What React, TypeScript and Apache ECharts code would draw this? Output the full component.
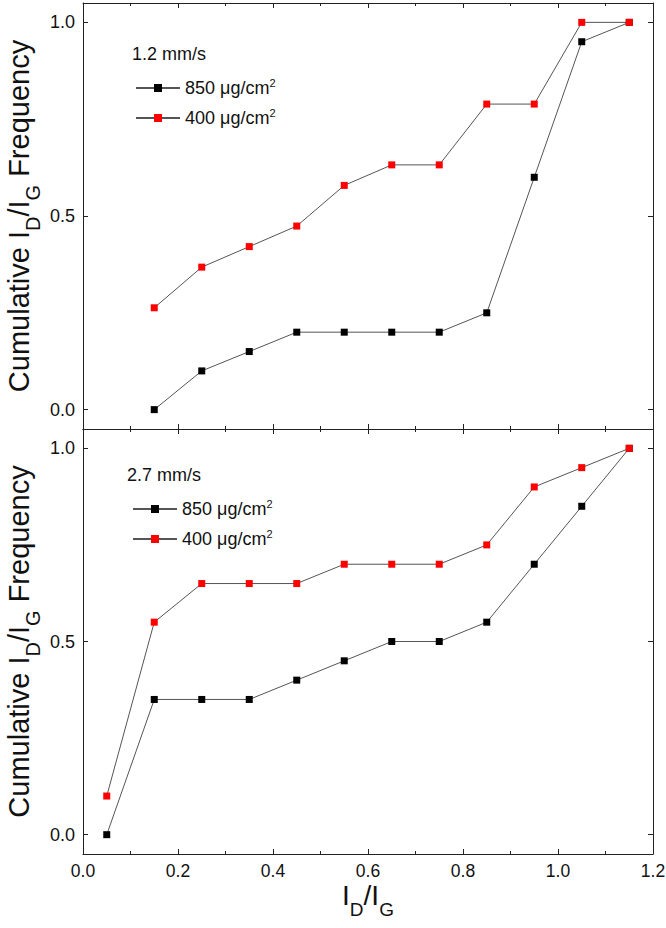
import React, { useEffect, useRef } from "react";
import * as echarts from "echarts";

const FONT = "Liberation Sans, Arial, sans-serif";

const xTop = [0.15, 0.25, 0.35, 0.45, 0.55, 0.65, 0.75, 0.85, 0.95, 1.05, 1.15];
const top850 = [0, 0.1, 0.15, 0.2, 0.2, 0.2, 0.2, 0.25, 0.6, 0.95, 1.0];
const top400 = [0.263, 0.368, 0.421, 0.474, 0.579, 0.632, 0.632, 0.789, 0.789, 1.0, 1.0];

const xBottom = [0.05, 0.15, 0.25, 0.35, 0.45, 0.55, 0.65, 0.75, 0.85, 0.95, 1.05, 1.15];
const bot850 = [0, 0.35, 0.35, 0.35, 0.4, 0.45, 0.5, 0.5, 0.55, 0.7, 0.85, 1.0];
const bot400 = [0.1, 0.55, 0.65, 0.65, 0.65, 0.7, 0.7, 0.7, 0.75, 0.9, 0.95, 1.0];

const yTicks = [0, 0.5, 1.0];
const seriesNames = ["850 μg/cm2", "400 μg/cm2"];
const panelTitles = ["1.2 mm/s", "2.7 mm/s"];

const AXIS_COLOR = "#222";
const TEXT_COLOR = "#111";

const zip = (xs: number[], ys: number[]) => xs.map((x, i) => [x, ys[i]]);

function xAxisDef(gridIndex: number, position: "top" | "bottom", labels: boolean) {
  const base: any = {
    type: "value",
    gridIndex,
    position,
    min: 0,
    max: 1.2,
    interval: 0.2,
    axisLine: { show: true, onZero: false, lineStyle: { color: AXIS_COLOR, width: 1 } },
    axisTick: { show: true, inside: true, length: 5, lineStyle: { color: AXIS_COLOR } },
    minorTick: { show: true, splitNumber: 2, length: 3, lineStyle: { color: AXIS_COLOR } },
    splitLine: { show: false },
    axisLabel: {
      show: labels,
      fontSize: 17.5,
      fontFamily: FONT,
      color: TEXT_COLOR,
      margin: 8,
      formatter: (v: number) => v.toFixed(1),
    },
  };
  if (labels) {
    base.name = "I{sub|D}/I{sub|G}";
    base.nameLocation = "middle";
    base.nameGap = 29;
    base.nameMoveOverlap = false;
    base.nameTextStyle = {
      fontSize: 28,
      fontFamily: FONT,
      color: TEXT_COLOR,
      lineHeight: 24,
      rich: {
        sub: { fontSize: 19, fontFamily: FONT, color: TEXT_COLOR, padding: [28, 0, 0, 0], lineHeight: 10 },
      },
    };
  }
  return base;
}

function yAxisDef(gridIndex: number, position: "left" | "right", labels: boolean) {
  const base: any = {
    type: "value",
    gridIndex,
    position,
    min: -0.05,
    max: 1.05,
    axisLine: { show: true, onZero: false, lineStyle: { color: AXIS_COLOR, width: 1 } },
    axisTick: { show: true, inside: true, length: 5, customValues: yTicks, lineStyle: { color: AXIS_COLOR } },
    splitLine: { show: false },
    axisLabel: {
      show: labels,
      customValues: yTicks,
      fontSize: 18,
      fontFamily: FONT,
      color: TEXT_COLOR,
      margin: 8,
      formatter: (v: number) => v.toFixed(1),
    },
  };
  if (labels) {
    base.name = "Cumulative I{sub|D}/I{sub|G} Frequency";
    base.nameLocation = "middle";
    base.nameRotate = 90;
    base.nameGap = 49;
    base.nameMoveOverlap = false;
    base.nameTextStyle = {
      fontSize: 29,
      fontFamily: FONT,
      color: TEXT_COLOR,
      lineHeight: 30,
      rich: {
        sub: { fontSize: 20, fontFamily: FONT, color: TEXT_COLOR, padding: [28, 0, 0, 0], lineHeight: 10 },
      },
    };
  }
  return base;
}

function lineSeries(name: string, color: string, xAxisIndex: number, yAxisIndex: number, data: number[][]) {
  return {
    type: "line",
    name,
    xAxisIndex,
    yAxisIndex,
    data,
    symbol: "rect",
    symbolSize: 7,
    itemStyle: { color },
    lineStyle: { color: "#555", width: 1 },
    showSymbol: true,
  };
}

function legendDef(left: number, top: number) {
  return {
    orient: "vertical",
    left,
    top,
    itemWidth: 44,
    itemHeight: 10,
    itemGap: 8,
    selectedMode: false,
    data: seriesNames,
    formatter: (n: string) => n.replace(/cm2$/, "cm{sup|2}"),
    textStyle: {
      fontSize: 18,
      fontFamily: FONT,
      color: TEXT_COLOR,
      lineHeight: 20,
      rich: {
        sup: { fontSize: 11, fontFamily: FONT, color: TEXT_COLOR, padding: [0, 0, 11, 0], lineHeight: 10 },
      },
    },
  };
}

export default function App() {
  const ref = useRef<HTMLDivElement>(null);
  useEffect(() => {
    if (!ref.current) return;
    const chart = echarts.init(ref.current, undefined, { renderer: "svg" });
    chart.setOption({
      animation: false,
      backgroundColor: "#fff",
      grid: [
        { left: 83, right: 13, top: 3, height: 426, containLabel: false, outerBoundsMode: "none" },
        { left: 83, right: 13, top: 429, bottom: 74, containLabel: false, outerBoundsMode: "none" },
      ],
      xAxis: [
        xAxisDef(0, "bottom", false),
        xAxisDef(0, "top", false),
        xAxisDef(1, "bottom", true),
        xAxisDef(1, "top", false),
      ],
      yAxis: [
        yAxisDef(0, "left", true),
        yAxisDef(0, "right", false),
        yAxisDef(1, "left", true),
        yAxisDef(1, "right", false),
      ],
      legend: [legendDef(130, 72), legendDef(127, 493)],
      graphic: [
        {
          type: "text",
          x: 132,
          y: 54,
          style: { text: panelTitles[0], fontSize: 18, fontFamily: FONT, fill: TEXT_COLOR, verticalAlign: "middle" },
        },
        {
          type: "text",
          x: 127,
          y: 475,
          style: { text: panelTitles[1], fontSize: 18, fontFamily: FONT, fill: TEXT_COLOR, verticalAlign: "middle" },
        },
      ],
      series: [
        lineSeries(seriesNames[0], "#000000", 0, 0, zip(xTop, top850)),
        lineSeries(seriesNames[1], "#ff0000", 0, 0, zip(xTop, top400)),
        lineSeries(seriesNames[0], "#000000", 2, 2, zip(xBottom, bot850)),
        lineSeries(seriesNames[1], "#ff0000", 2, 2, zip(xBottom, bot400)),
      ],
    });
    return () => chart.dispose();
  }, []);
  return <div ref={ref} style={{ width: 666, height: 928, position: "absolute", left: 0, top: 0 }} />;
}
